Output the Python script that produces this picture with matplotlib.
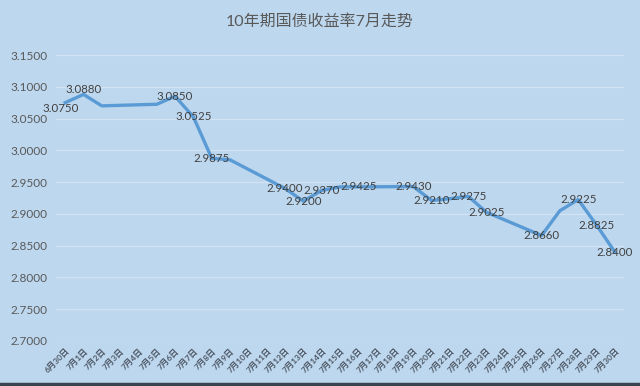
import matplotlib
matplotlib.use("Agg")
import matplotlib.pyplot as plt
import numpy as np
from matplotlib.lines import Line2D

plt.rcParams['font.family'] = ['Lato', 'Noto Sans CJK SC', 'DejaVu Sans']

title = "10年期国债收益率7月走势"
dates = ["6月30日"] + [f"7月{d}日" for d in range(1, 31)]
# None = non-trading day (weekend)
yields = [3.0750, 3.0880, 3.0700, None, None, 3.0725, 3.0850, 3.0525, 2.9875, 2.9850,
          None, None, 2.9400, 2.9200, 2.9370, 2.9425, 2.9425, None, None, 2.9430,
          2.9210, 2.9240, 2.9275, 2.9025, None, None, 2.8660, 2.9050, 2.9225, 2.8825,
          2.8400]
labels_shown = [True, True, False, False, False, False, True, True, True, False,
                False, False, True, True, True, False, True, False, False, True,
                True, False, True, True, False, False, True, False, True, True,
                True]
yticks = [2.70, 2.75, 2.80, 2.85, 2.90, 2.95, 3.00, 3.05, 3.10, 3.15]

bg = "#BDD7EE"
fig = plt.figure(figsize=(6.4, 3.86), dpi=100, facecolor=bg)
ax = fig.add_axes([0.0875, 0.1166, 0.8875, 0.7409], facecolor=bg)

x = np.arange(len(dates))
pts = [(i, v) for i, v in enumerate(yields) if v is not None]
px = [p[0] for p in pts]
py = [p[1] for p in pts]
ax.plot(px, py, color="#5B9BD5", lw=2.4, solid_joinstyle="round", zorder=3)

# small pixel nudges for crowded labels (in points)
nudges = {0: (-3, -4), 1: (0, 3.5)}
for i, v in enumerate(yields):
    if v is not None and labels_shown[i]:
        dx, dy = nudges.get(i, (0, 0))
        ax.annotate(f"{v:.4f}", (i, v), xytext=(dx, dy), textcoords="offset points",
                    ha="center", va="center", fontsize=8.3, color="#404040", zorder=4)

ax.set_xlim(-0.5, len(dates) - 0.5)
ax.set_ylim(2.70, 3.15)
ax.set_yticks(yticks)
ax.set_yticklabels([f"{t:.4f}" for t in yticks], fontsize=8.5, color="#595959")
ax.set_xticks(x)
ax.set_xticklabels(dates, rotation=45, ha="right", rotation_mode="anchor",
                   fontsize=6, color="#4F5966", fontweight="bold")
ax.tick_params(axis="both", length=0)
ax.tick_params(axis="y", pad=6)
ax.tick_params(axis="x", pad=4)
ax.grid(axis="y", color="#D3E3F3", lw=0.9)
ax.set_axisbelow(True)
for s in ax.spines.values():
    s.set_visible(False)

fig.text(0.5, 0.945, title, ha="center", va="center", fontsize=11.5, color="#595959")

fig.add_artist(Line2D([0, 1], [0.004, 0.004], transform=fig.transFigure,
                      color="#3A4450", lw=2.5))

fig.savefig("out.png", dpi=100, facecolor=bg)
